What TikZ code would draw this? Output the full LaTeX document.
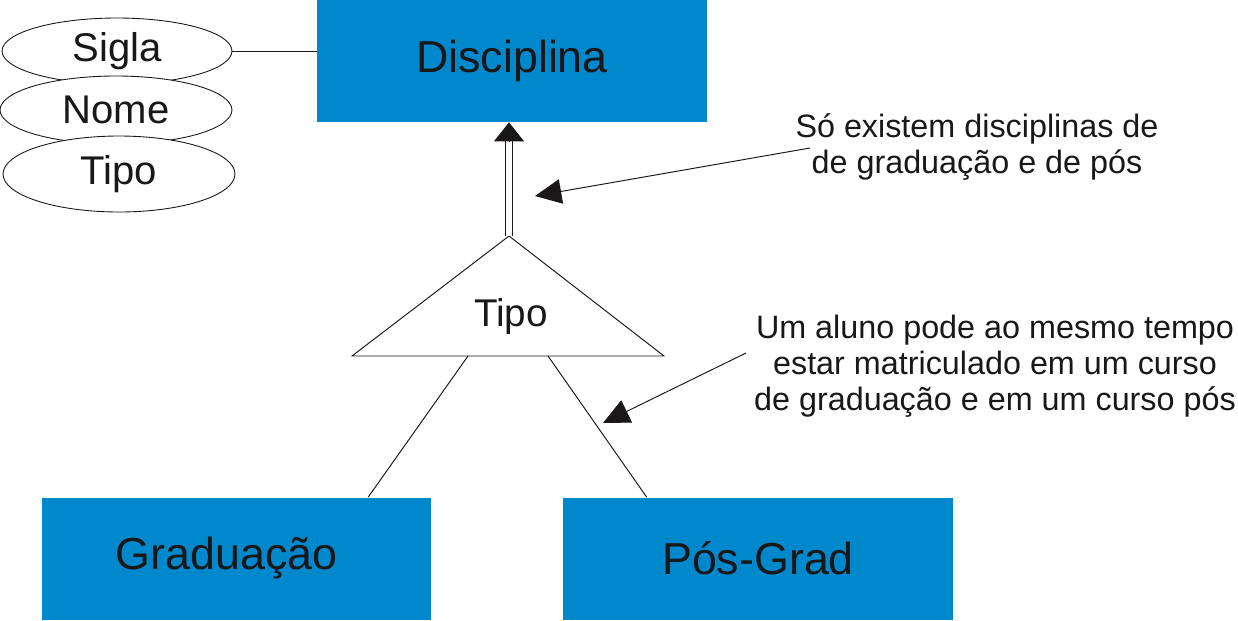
\documentclass[tikz,border=0pt]{standalone}
\usepackage{fontspec}
\setmainfont{Liberation Sans}
\usepackage{tikz}
\usetikzlibrary{positioning,arrows.meta,shapes.geometric,calc}
\definecolor{tinta}{HTML}{1A1718}
\definecolor{azul}{HTML}{0088CC}
\tikzset{
  caixa/.style={draw=none,fill=azul,minimum width=7.8cm,minimum height=2.44cm,inner sep=0pt,text=tinta,font=\fontsize{25.5}{28}\selectfont},
  atributo/.style={ellipse,draw=tinta,fill=white,line width=0.5pt,inner sep=0pt,text=tinta,font=\fontsize{22.8}{26}\selectfont},
  nota/.style={align=center,text=tinta,inner sep=0pt,font=\fontsize{18.4}{20.5}\selectfont},
  linha/.style={draw=tinta,line width=0.55pt},
  seta/.style={-{Triangle[length=15pt,width=14pt]},draw=tinta,line width=0.55pt},
  dupla/.style={draw=tinta,double=white,double distance=3.2pt,line width=0.55pt},
}

\begin{document}
\begin{tikzpicture}[x=0.02cm,y=-0.02cm]
  \useasboundingbox (0,0) rectangle (1238,620);
  % entidades
  \node[caixa] (disc) at (512,61) {Disciplina};
  \node[caixa] (grad) at (236.5,558.5) {Graduação\kern0.4cm};
  \node[caixa] (pos) at (758,558.5) {\raisebox{-0.1cm}{Pós-Grad}};
  % atributos
  \node[atributo,minimum width=4.6cm,minimum height=1.32cm] (sigla) at (117,51) {Sigla};
  \node[atributo,minimum width=4.64cm,minimum height=1.36cm] (nome) at (116,110) {Nome};
  \node[atributo,minimum width=4.64cm,minimum height=1.52cm] (tipoat) at (119,174) {Tipo};
  \draw[linha] (sigla.east) -- (sigla.east -| disc.west);
  % especializacao
  \coordinate (apice) at (509,236);
  \coordinate (baseesq) at (352,356);
  \coordinate (basedir) at (664,356);
  \draw[linha] (apice) -- (baseesq) -- (basedir) -- cycle;
  \node[text=tinta,font=\fontsize{22}{26}\selectfont] (tipoesp) at (511,316) {Tipo};
  \draw[dupla,shorten >=10pt] (apice) -- (apice |- disc.south);
  \draw[-{Triangle[length=10.8pt,width=17pt]},draw=tinta,line width=0.55pt] ($(apice |- disc.south)+(0,19)$) -- (apice |- disc.south);
  \coordinate (pernaesq) at (468,356);
  \coordinate (pernadir) at (548,356);
  \draw[linha] (pernaesq) -- ($(grad.north west)+(327,0)$);
  \draw[linha] (pernadir) -- ($(pos.north west)+(84,0)$);
  % notas
  \node[nota] (nota1) at (977,147) {Só existem disciplinas de\\de graduação e de pós};
  \node[nota] (nota2) at (995,366) {Um aluno pode ao mesmo tempo\\estar matriculado em um curso\\de graduação e em um curso pós};
  \coordinate (alvo1) at (535,196);
  \coordinate (alvo2) at (603,423);
  \draw[seta] (810,148) -- (alvo1);
  \draw[seta] (746,353) -- (alvo2);
\end{tikzpicture}
\end{document}
